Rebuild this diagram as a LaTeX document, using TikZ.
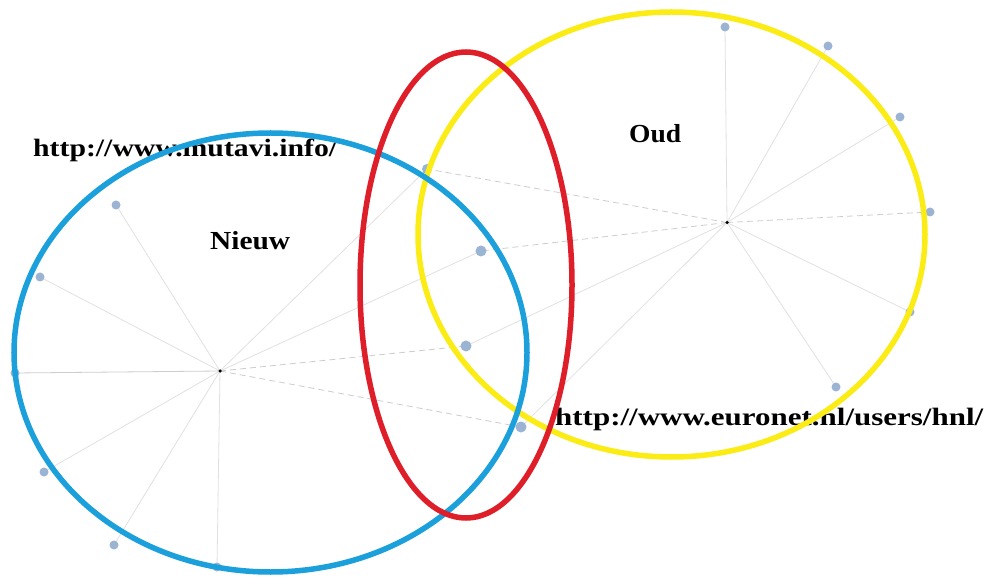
\documentclass[tikz,border=0pt]{standalone}
\usepackage{fontspec}
\setmainfont{Liberation Serif}
\usepackage{graphicx}
\definecolor{dotc}{RGB}{155,180,212}
\definecolor{spokec}{RGB}{225,225,225}
\definecolor{dashc}{RGB}{205,205,205}
\definecolor{bluec}{RGB}{27,160,220}
\definecolor{redc}{RGB}{222,30,40}
\definecolor{yellowc}{RGB}{250,236,20}
\pgfdeclarelayer{background}
\pgfsetlayers{background,main}
\begin{document}
\begin{tikzpicture}[x=1pt,y=-1pt,
  leaf/.style={circle,fill=dotc,inner sep=0pt,minimum size=9pt},
  bigleaf/.style={circle,fill=dotc,inner sep=0pt,minimum size=11pt},
  hub/.style={circle,fill=black,inner sep=0pt,minimum size=3.5pt},
  spoke/.style={draw=spokec,line width=0.8pt},
  dspoke/.style={draw=dashc,line width=0.8pt,dash pattern=on 6pt off 4pt},
  lbl/.style={inner sep=0pt,anchor=base west},
  ring/.style={line width=5.5pt}]
\useasboundingbox (0,0) rectangle (991,577);
\begin{pgfonlayer}{background}
\fill[white] (0,0) rectangle (991,577);
\end{pgfonlayer}
% hubs
\node[hub] (hn) at (220,371) {};
\node[hub] (ho) at (727,222.5) {};
% blue-side leaves
\node[leaf] (n1) at (116,205) {};
\node[leaf] (n2) at (40,277) {};
\node[leaf] (n3) at (15,373) {};
\node[leaf] (n4) at (44,472) {};
\node[leaf] (n5) at (114,545) {};
\node[leaf] (n6) at (217,567) {};
% shared leaves
\node[leaf,minimum size=10pt] (s1) at (427,169) {};
\node[bigleaf] (s2) at (481,251) {};
\node[bigleaf] (s3) at (466,346) {};
\node[bigleaf] (s4) at (521,427) {};
% yellow-side leaves
\node[leaf] (o1) at (725,27) {};
\node[leaf] (o2) at (828,46) {};
\node[leaf] (o3) at (900,117) {};
\node[leaf] (o4) at (930,212) {};
\node[leaf] (o5) at (910,312) {};
\node[leaf] (o6) at (836,387) {};
% spokes (behind the nodes)
\begin{pgfonlayer}{background}
\foreach \t in {n1,n2,n4,n5,n6,s1,s2} {\path[spoke] (hn.center) -- (\t.center);}
\path[draw=dashc,line width=0.8pt] (hn.center) -- (n3.center);
\foreach \t in {s3,s4} {\path[dspoke] (hn.center) -- (\t.center);}
\foreach \t in {o1,o2,o3,o5,o6,s3,s4} {\path[spoke] (ho.center) -- (\t.center);}
\foreach \t in {o4,s1,s2} {\path[dspoke] (ho.center) -- (\t.center);}
\end{pgfonlayer}
% labels
\node[lbl,font=\bfseries\fontsize{25}{25}\selectfont] (tmut) at (33,157) {\resizebox{304pt}{\height}{http://www.mutavi.info/}};
\node[lbl,font=\bfseries\fontsize{25}{25}\selectfont] (teur) at (555,425) {\resizebox{428pt}{\height}{http://www.euronet.nl/users/hnl/}};
\node[lbl,font=\bfseries\fontsize{26}{26}\selectfont] (tnieuw) at (210,250) {\resizebox{80pt}{\height}{Nieuw}};
\node[lbl,font=\bfseries\fontsize{26}{26}\selectfont] (toud) at (629,143) {\resizebox{52pt}{\height}{Oud}};
% rings
\draw[ring,yellowc] (671.5,234.5) ellipse [x radius=253.5, y radius=222.5];
\draw[ring,bluec] (270.5,352.5) ellipse [x radius=256.5, y radius=219.5];
\draw[ring,redc] (466,285) ellipse [x radius=106, y radius=233];
\end{tikzpicture}
\end{document}
